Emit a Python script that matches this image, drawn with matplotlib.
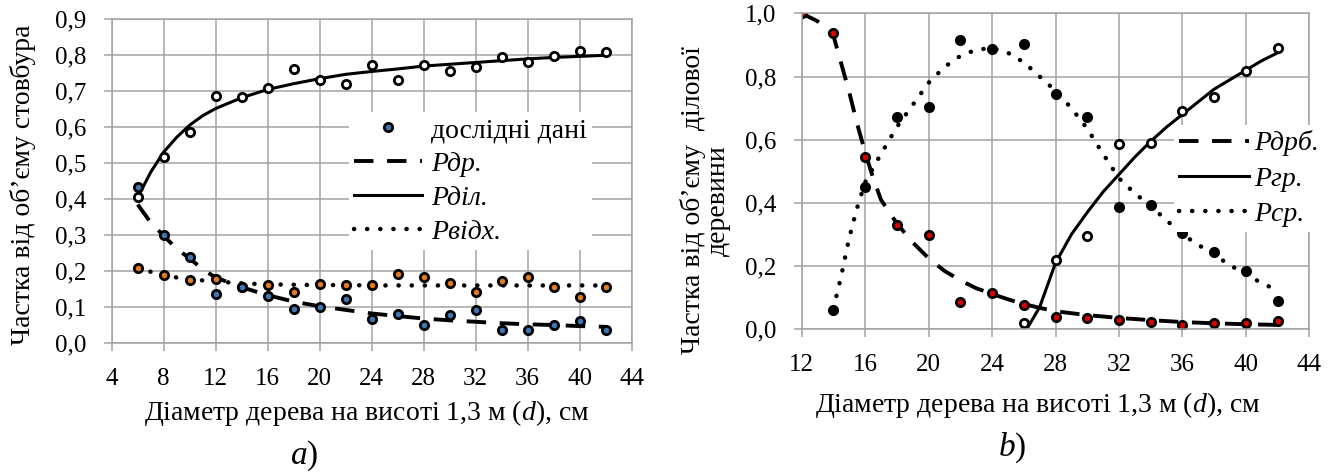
import matplotlib
matplotlib.use("Agg")
import matplotlib.pyplot as plt
from matplotlib.ticker import FuncFormatter, MultipleLocator

plt.rcParams['font.family'] = 'serif'
plt.rcParams['font.serif'] = ['Liberation Serif', 'DejaVu Serif']
plt.rcParams['mathtext.fontset'] = 'custom'
plt.rcParams['mathtext.it'] = 'Liberation Serif:italic'
plt.rcParams['mathtext.rm'] = 'Liberation Serif'

# ---- panel a) data ----
d_a = [6, 8, 10, 12, 14, 16, 18, 20, 22, 24, 26, 28, 30, 32, 34, 36, 38, 40, 42]
p_dil_obs = [0.406, 0.517, 0.586, 0.686, 0.683, 0.709, 0.762, 0.732, 0.719, 0.773,
             0.730, 0.773, 0.755, 0.767, 0.796, 0.782, 0.797, 0.813, 0.808]
p_dr_obs = [0.435, 0.299, 0.239, 0.137, 0.155, 0.132, 0.095, 0.100, 0.121, 0.068,
            0.081, 0.049, 0.079, 0.093, 0.037, 0.037, 0.049, 0.061, 0.037]
p_vidh_obs = [0.208, 0.188, 0.174, 0.179, 0.157, 0.160, 0.142, 0.165, 0.160, 0.160,
              0.193, 0.183, 0.167, 0.142, 0.172, 0.183, 0.157, 0.128, 0.157]

d_fit_a = [6, 7, 8, 9, 10, 11, 12, 14, 16, 18, 20, 22, 24, 26, 28, 30, 32, 34, 36, 38, 40, 42]
p_dil_fit = [0.405, 0.475, 0.531, 0.572, 0.606, 0.632, 0.652, 0.682, 0.705, 0.721, 0.735,
             0.747, 0.755, 0.762, 0.770, 0.775, 0.780, 0.785, 0.790, 0.794, 0.797, 0.800]
p_dr_fit = [0.385, 0.335, 0.298, 0.262, 0.235, 0.205, 0.182, 0.155, 0.133, 0.115, 0.102,
            0.092, 0.082, 0.075, 0.068, 0.063, 0.059, 0.055, 0.052, 0.050, 0.047, 0.045]
p_vidh_fit = [0.208, 0.198, 0.190, 0.182, 0.177, 0.174, 0.171, 0.166, 0.163, 0.162, 0.161,
              0.161, 0.160, 0.160, 0.160, 0.160, 0.160, 0.160, 0.160, 0.160, 0.160, 0.160]

# ---- panel b) data ----
d_b = [12, 14, 16, 18, 20, 22, 24, 26, 28, 30, 32, 34, 36, 38, 40, 42]
p_drb_obs = [1.0, 0.939, 0.546, 0.330, 0.298, 0.085, 0.114, 0.077, 0.040, 0.035,
             0.029, 0.024, 0.014, 0.021, 0.021, 0.026]
d_sr = [14, 16, 18, 20, 22, 24, 26, 28, 30, 32, 34, 36, 38, 40, 42]
p_sr_obs = [0.061, 0.451, 0.671, 0.704, 0.915, 0.886, 0.903, 0.744, 0.673, 0.386,
            0.393, 0.304, 0.244, 0.184, 0.090]
d_gr = [26, 28, 30, 32, 34, 36, 38, 40, 42]
p_gr_obs = [0.021, 0.219, 0.295, 0.585, 0.589, 0.691, 0.734, 0.818, 0.889]

d_drb_fit = [12, 13, 14, 14.5, 15, 15.5, 16, 16.5, 17, 18, 19, 20, 21, 22, 23, 24, 25, 26,
             27, 28, 30, 32, 34, 36, 38, 40, 42]
p_drb_fit = [1.0, 0.975, 0.93, 0.84, 0.75, 0.65, 0.56, 0.48, 0.41, 0.335, 0.275, 0.225,
             0.185, 0.155, 0.13, 0.112, 0.095, 0.08, 0.068, 0.057, 0.045, 0.036, 0.029,
             0.023, 0.019, 0.016, 0.014]
d_sr_fit = [14, 14.5, 15, 15.5, 16, 17, 18, 19, 20, 21, 22, 23, 24, 25, 26, 27, 28, 29,
            30, 31, 32, 33, 34, 35, 36, 38, 40, 42]
p_sr_fit = [0.065, 0.17, 0.29, 0.385, 0.465, 0.555, 0.64, 0.71, 0.78, 0.83, 0.865, 0.885,
            0.89, 0.875, 0.845, 0.80, 0.755, 0.70, 0.635, 0.555, 0.478, 0.43, 0.39, 0.345,
            0.30, 0.235, 0.172, 0.122]
d_gr_fit = [26.3, 27, 28, 29, 30, 31, 32, 33, 34, 35, 36, 37, 38, 39, 40, 41, 42]
p_gr_fit = [0.01, 0.07, 0.21, 0.30, 0.37, 0.435, 0.49, 0.545, 0.595, 0.64, 0.68, 0.72,
            0.76, 0.79, 0.82, 0.85, 0.875]

xlabel = 'Діаметр дерева на висоті 1,3 м ($d$), см'
grid_c = '#a3a3a3'
dash = (0, (5, 3.5))
dot = (0, (0.05, 2.9))
comma = FuncFormatter(lambda v, p: f'{v:.1f}'.replace('.', ','))


def style_axes(ax):
    ax.grid(True, color=grid_c, lw=1.1)
    ax.set_axisbelow(True)
    for s in ax.spines.values():
        s.set_color(grid_c)
        s.set_linewidth(1.1)
    ax.tick_params(axis='both', length=6, width=1.1, color=grid_c, labelsize=18, pad=12)
    ax.yaxis.set_major_formatter(comma)


fig = plt.figure(figsize=(13.41, 4.72), dpi=100)
ax1 = fig.add_axes([0.0833, 0.2733, 0.3878, 0.6858])
ax2 = fig.add_axes([0.5978, 0.3023, 0.3786, 0.6695])

mk = dict(ls='none', marker='o', ms=6, mew=2.0, mec='black')

# ---- panel a ----
ax1.plot(d_fit_a, p_dil_fit, color='black', lw=2.2, label='Рділ.')
ax1.plot(d_fit_a, p_dr_fit, color='black', lw=2.8, ls=dash, label='Рдр.')
ax1.plot(d_fit_a, p_vidh_fit, color='black', lw=3.2, ls=dot, dash_capstyle='round',
         label='Рвідх.')
ax1.plot(d_a, p_vidh_obs, mfc='#e07b20', **mk)
ax1.plot(d_a, p_dr_obs, mfc='#3d78b5', **mk, label='дослідні дані')
ax1.plot(d_a, p_dil_obs, mfc='white', **mk)
ax1.set_xlim(4, 44)
ax1.set_ylim(0, 0.9)
ax1.xaxis.set_major_locator(MultipleLocator(4))
ax1.yaxis.set_major_locator(MultipleLocator(0.1))
style_axes(ax1)
ax1.set_xlabel(xlabel, fontsize=20)
ax1.xaxis.label.set_va('center')
ax1.xaxis.set_label_coords(0.491, -0.216)
ax1.set_ylabel('Частка від об’єму стовбура', fontsize=20)
ax1.yaxis.label.set_va('center')
ax1.yaxis.set_label_coords(-0.171, 0.488)

h, l = ax1.get_legend_handles_labels()
order = [3, 1, 0, 2]
leg1 = ax1.legend([h[i] for i in order], [l[i] for i in order], loc='upper left',
                  bbox_to_anchor=(0.456, 0.713), borderaxespad=0, frameon=True,
                  fancybox=False, edgecolor='none', framealpha=1, fontsize=20,
                  handlelength=2.45, handletextpad=0.3, labelspacing=0.3, borderpad=0.2)
for t in leg1.get_texts()[1:]:
    t.set_style('italic')

# ---- panel b ----
ax2.plot(d_drb_fit, p_drb_fit, color='black', lw=2.8, ls=dash, label='Рдрб.')
ax2.plot(d_gr_fit, p_gr_fit, color='black', lw=2.2, label='Ргр.')
ax2.plot(d_sr_fit, p_sr_fit, color='black', lw=3.2, ls=dot, dash_capstyle='round',
         label='Рср.')
ax2.plot(d_sr, p_sr_obs, mfc='black', **mk)
ax2.plot(d_gr, p_gr_obs, mfc='white', **mk)
ax2.plot(d_b, p_drb_obs, mfc='#e00000', **mk)
ax2.set_xlim(12, 44)
ax2.set_ylim(0, 1.0)
ax2.xaxis.set_major_locator(MultipleLocator(4))
ax2.yaxis.set_major_locator(MultipleLocator(0.2))
style_axes(ax2)
ax2.set_xlabel(xlabel, fontsize=20)
ax2.xaxis.label.set_va('center')
ax2.xaxis.set_label_coords(0.464, -0.24)
ax2.set_ylabel('Частка від об’єму  ділової\nдеревини', fontsize=20, linespacing=1.0)
ax2.yaxis.label.set_va('center')
ax2.yaxis.set_label_coords(-0.19, 0.409)

leg2 = ax2.legend(loc='upper left', bbox_to_anchor=(0.733, 0.647), borderaxespad=0,
                  frameon=True, fancybox=False, edgecolor='none', framealpha=1,
                  fontsize=20, handlelength=2.5, handletextpad=0.18, labelspacing=0.35,
                  borderpad=0.2)
for t in leg2.get_texts():
    t.set_style('italic')

fig.text(304 / 1341, 1 - 456 / 472, '$a$)', fontsize=24, ha='center', va='center')
fig.text(1012 / 1341, 1 - 448 / 472, '$b$)', fontsize=24, ha='center', va='center')

fig.savefig('out.png', dpi=100)
